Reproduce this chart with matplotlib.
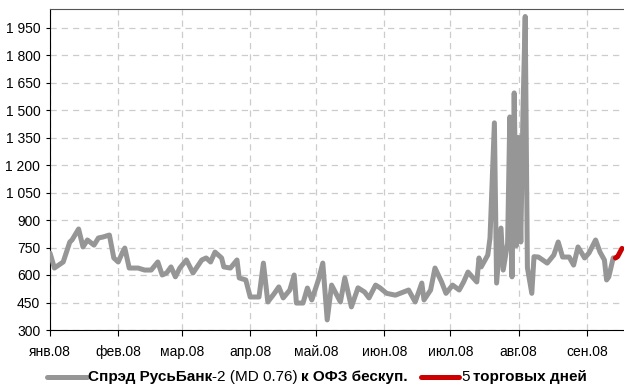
import pandas as pd
import matplotlib
matplotlib.use('Agg')
import matplotlib.pyplot as plt
from matplotlib.ticker import FuncFormatter, MultipleLocator
from matplotlib.lines import Line2D

plt.rcParams['font.family'] = ['Liberation Sans Narrow', 'Liberation Sans', 'DejaVu Sans']

# spread series (bp)
dates = ['2008-01-01', '2008-01-03', '2008-01-07', '2008-01-10', '2008-01-11', '2008-01-14',
         '2008-01-16', '2008-01-18', '2008-01-21', '2008-01-23', '2008-01-25', '2008-01-28',
         '2008-01-30', '2008-02-01', '2008-02-03', '2008-02-04', '2008-02-06', '2008-02-10',
         '2008-02-13', '2008-02-16', '2008-02-19', '2008-02-21', '2008-02-23', '2008-02-25',
         '2008-02-27', '2008-02-29', '2008-03-03', '2008-03-06', '2008-03-10', '2008-03-12',
         '2008-03-14', '2008-03-16', '2008-03-19', '2008-03-20', '2008-03-23', '2008-03-26',
         '2008-03-27', '2008-03-30', '2008-04-01', '2008-04-05', '2008-04-07', '2008-04-09',
         '2008-04-12', '2008-04-14', '2008-04-16', '2008-04-19', '2008-04-21', '2008-04-22',
         '2008-04-25', '2008-04-27', '2008-04-29', '2008-05-02', '2008-05-04', '2008-05-06',
         '2008-05-08', '2008-05-12', '2008-05-14', '2008-05-17', '2008-05-20', '2008-05-23',
         '2008-05-25', '2008-05-28', '2008-05-30', '2008-06-02', '2008-06-06', '2008-06-12',
         '2008-06-15', '2008-06-18', '2008-06-19', '2008-06-22', '2008-06-24', '2008-06-27',
         '2008-06-29', '2008-07-02', '2008-07-05', '2008-07-07', '2008-07-09', '2008-07-13',
         '2008-07-14', '2008-07-15', '2008-07-18', '2008-07-19', '2008-07-21', '2008-07-22',
         '2008-07-24', '2008-07-25', '2008-07-27', '2008-07-28', '2008-07-29', '2008-07-30',
         '2008-07-31', '2008-08-01', '2008-08-02', '2008-08-03', '2008-08-04', '2008-08-05',
         '2008-08-07', '2008-08-08', '2008-08-10', '2008-08-14', '2008-08-17', '2008-08-19',
         '2008-08-21', '2008-08-24', '2008-08-26', '2008-08-28', '2008-08-31', '2008-09-02',
         '2008-09-05', '2008-09-07', '2008-09-09', '2008-09-10', '2008-09-11', '2008-09-13',
         '2008-09-14']
spread = [720, 638, 671, 780, 791, 851,
          753, 791, 763, 802, 807, 818,
          693, 671, 725, 747, 638, 638,
          627, 627, 671, 600, 611, 644,
          590, 638, 682, 611, 682, 693,
          671, 725, 693, 644, 638, 682,
          584, 573, 480, 480, 665, 453,
          500, 535, 475, 518, 600, 447,
          447, 529, 464, 573, 665, 355,
          545, 453, 584, 426, 530, 507,
          475, 545, 530, 500, 490, 518,
          453, 556, 464, 518, 638, 562,
          500, 545, 518, 562, 616, 562,
          693, 644, 709, 802, 1430, 556,
          856, 627, 774, 1462, 590, 1593,
          760, 1350, 780, 1500, 2010, 640,
          500, 700, 698, 665, 709, 780,
          698, 698, 654, 753, 693, 720,
          791, 725, 682, 573, 590, 693,
          693]

# last 5 trading days
red_dates = ['2008-09-14', '2008-09-15', '2008-09-17']
red_vals = [693, 700, 745]

month_starts = pd.date_range('2008-01-01', '2008-09-01', freq='MS')
month_labels = ['янв.08', 'фев.08', 'мар.08', 'апр.08', 'май.08',
                'июн.08', 'июл.08', 'авг.08', 'сен.08']

fig = plt.figure(figsize=(6.24, 3.85), dpi=100)
ax = fig.add_axes([50 / 624, 55 / 385, 580 / 624, 321 / 385])

ax.plot(pd.to_datetime(dates), spread, color='#969696', lw=3.6,
        solid_joinstyle='round', solid_capstyle='round', zorder=3)
ax.plot(pd.to_datetime(red_dates), red_vals, color='#cc0000', lw=3.6,
        solid_joinstyle='round', solid_capstyle='round', zorder=4)

ax.set_xlim(pd.Timestamp('2008-01-01'), pd.Timestamp('2008-01-01') + pd.Timedelta(days=580 / 2.2))
ax.set_ylim(300, 300 + 321 / 27.5 * 150)
ax.set_xticks(month_starts)
ax.set_xticklabels(month_labels)
ax.yaxis.set_major_locator(MultipleLocator(150))
ax.yaxis.set_major_formatter(FuncFormatter(lambda v, p: '{:,.0f}'.format(v).replace(',', ' ')))

ax.grid(True, color='#cccccc', linestyle=(0, (5, 4)), linewidth=0.9)
ax.set_axisbelow(True)
ax.spines['right'].set_visible(False)
ax.spines['top'].set_color('#555555')
ax.spines['left'].set_color('black')
ax.spines['bottom'].set_color('black')
ax.tick_params(axis='y', direction='out', length=3, pad=4, labelsize=10)
ax.tick_params(axis='x', direction='out', length=4, pad=7, labelsize=10)

## legend drawn by hand: the labels mix bold and regular pieces
W, H = 624, 385
ly = 377
fig.add_artist(Line2D([47 / W, 87 / W], [1 - ly / H, 1 - ly / H], color='#969696', lw=3.6,
                      solid_capstyle='round'))
fig.add_artist(Line2D([421 / W, 459 / W], [1 - ly / H, 1 - ly / H], color='#cc0000', lw=3.6,
                      solid_capstyle='round'))

fig.canvas.draw()
renderer = fig.canvas.get_renderer()


def chain(pieces, x0):
    x = x0
    for txt, weight, gap in pieces:
        t = fig.text(x / W, 1 - ly / H, txt, fontsize=11, fontweight=weight, va='center', ha='left')
        bb = t.get_window_extent(renderer)
        x = x + bb.width + gap
    return x


chain([('Спрэд РусьБанк', 'bold', 0), ('-2 (MD 0.76)', 'normal', 3.5),
       ('к ОФЗ бескуп.', 'bold', 0)], 88)
chain([('5', 'normal', 3.5), ('торговых дней', 'bold', 0)], 461)

fig.savefig('out.png', dpi=100)
